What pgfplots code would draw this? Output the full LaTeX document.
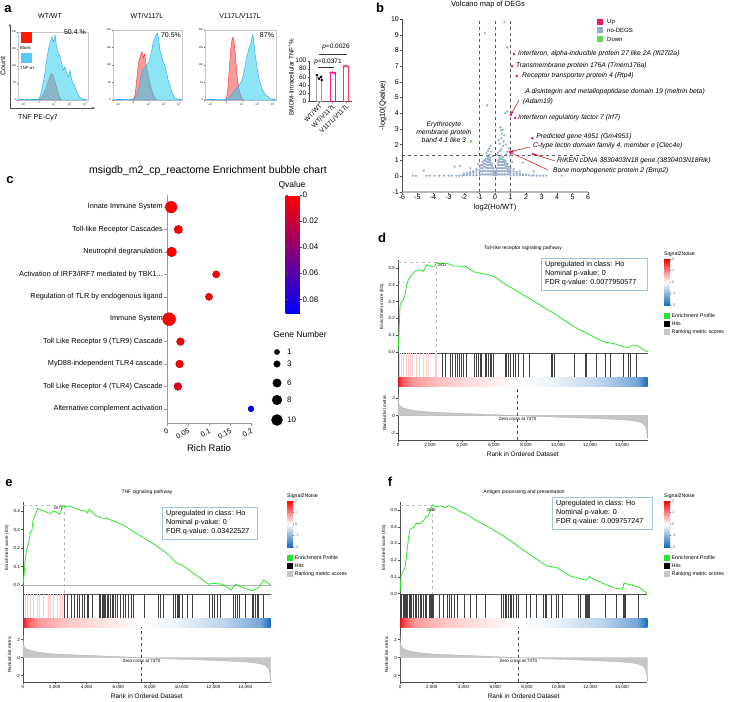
\documentclass[border=0pt]{standalone}
\usepackage{fontspec}
\setmainfont{Liberation Sans}
\usepackage{pgfplots}
\usepackage{pgfplotstable}
\pgfplotsset{compat=1.18}
\usetikzlibrary{arrows.meta}

\newcommand\fs[1]{\fontsize{#1pt}{#1pt}\selectfont}

\definecolor{histred}{RGB}{240,70,70}
\definecolor{histcyan}{RGB}{45,205,235}
\definecolor{upred}{RGB}{228,30,90}
\definecolor{nodeg}{RGB}{150,172,200}
\definecolor{downgreen}{RGB}{110,210,90}
\definecolor{esgreen}{RGB}{40,230,40}
\definecolor{boxblue}{RGB}{160,195,230}
\definecolor{rampred}{RGB}{225,25,35}
\definecolor{rampblue}{RGB}{25,105,190}
\definecolor{barpink}{RGB}{245,30,140}
\definecolor{barred}{RGB}{245,60,80}

\pgfdeclarehorizontalshading{gsearamp}{100bp}{color(0bp)=(rampred); color(25bp)=(rampred);
  color(26bp)=(red!65); color(28bp)=(red!40); color(34bp)=(red!22); color(42bp)=(red!10);
  color(49bp)=(white); color(56bp)=(rampblue!8); color(66bp)=(rampblue!30);
  color(73bp)=(rampblue!60); color(75bp)=(rampblue); color(100bp)=(rampblue)}
\pgfdeclareverticalshading{stwon}{100bp}{color(0bp)=(rampblue); color(25bp)=(rampblue);
  color(50bp)=(white); color(75bp)=(red); color(100bp)=(red)}

\pgfplotsset{
  base/.style={scale only axis, clip=false,
    /pgf/number format/assume math mode=true,
    tick align=outside, major tick length=2pt,
    axis line style={black!70, line width=0.4pt},
    tick style={black!70, line width=0.4pt},
    ticklabel style={font=\fs{4.5}, inner sep=1pt},
    label style={font=\fs{4.5}}},
  gsea/.style={base, xmin=0, xmax=15600, width=#1, scaled x ticks=false},
  rankx/.style={xtick={0,2000,4000,6000,8000,10000,12000,14000},
    xticklabel style={/pgf/number format/.cd, fixed, 1000 sep={,}, assume math mode=true}},
  hist/.style={base, width=#1, xmin=0, xmax=100, ymin=0, ymax=100,
    axis line style={gray!45, line width=0.4pt}, tick pos=left,
    major tick length=1.2pt, tick style={black!60, line width=0.3pt},
    xtick={8,30,52,74,96},
    xticklabels={-10\textsuperscript{3},0,10\textsuperscript{3},10\textsuperscript{4},10\textsuperscript{5}},
    ytick={0,25,50,75,100}, yticklabels={0,50,100,150,200},
    ticklabel style={font=\fs{2.6}, inner sep=0.5pt}},
}

% Signal2Noise legend: #1 left px, #2 title y px
\newcommand\sleg[2]{%
  \node[anchor=west, font=\fs{5.2}, inner sep=0] at (#1,#2) {Signal2Noise};
  \shade[shading=stwon] (#1,{#2+5}) rectangle ({#1+6},{#2+51});
  \foreach \v/\t in {0/2,1/1,2/0,3/-1,4/-2}{
    \draw[black!60, line width=0.3pt] ({#1+6},{#2+5+11.5*\v}) -- ++(1.3,0)
      node[anchor=west, font=\fs{3.8}, inner sep=0.6pt] {\t};}
  \fill[esgreen] (#1,{#2+59}) rectangle ++(6,6);
  \node[anchor=west, font=\fs{5.3}, inner sep=0] at ({#1+7.5},{#2+62}) {Enrichment Profile};
  \fill[black] (#1,{#2+67}) rectangle ++(6,6);
  \node[anchor=west, font=\fs{5.3}, inner sep=0] at ({#1+7.5},{#2+70}) {Hits};
  \fill[gray!45] (#1,{#2+75}) rectangle ++(6,6);
  \node[anchor=west, font=\fs{5.3}, inner sep=0] at ({#1+7.5},{#2+78}) {Ranking metric scores};
}
% stats box: #1 left, #2 top, #3 width, #4 FDR
\newcommand\statbox[4]{%
  \draw[boxblue, line width=0.6pt] (#1,#2) rectangle ++(#3,32);
  \node[anchor=west, font=\fs{7.2}, inner sep=0] at ({#1+4},{#2+7}) {Upregulated in class: Ho};
  \node[anchor=west, font=\fs{7.2}, inner sep=0] at ({#1+4},{#2+16}) {Nominal p-value: 0};
  \node[anchor=west, font=\fs{7.2}, inner sep=0] at ({#1+4},{#2+25}) {FDR q-value: #4};
}

\pgfplotstableread{
r m
0 2.6
15 2.0
40 1.5
100 1.2
200 1.0
400 0.85
700 0.7
1000 0.6
1500 0.5
2000 0.42
3000 0.33
4000 0.26
5000 0.19
6000 0.12
7000 0.04
7470 0
8000 -0.05
9000 -0.12
10000 -0.18
11000 -0.24
12000 -0.31
13000 -0.39
14000 -0.48
14600 -0.58
15000 -0.7
15300 -0.9
15450 -1.2
15530 -1.6
15570 -2.2
15590 -2.6
15600 -2.6
}\rankdata

\pgfplotstableread{
r es
0 0
60 0.1
125 0.28
230 0.30
330 0.31
440 0.34
540 0.40
650 0.43
850 0.46
1060 0.48
1480 0.49
1600 0.48
1790 0.52
2100 0.51
2310 0.512
2411 0.535
2600 0.525
3040 0.53
3460 0.512
3900 0.512
4100 0.505
4250 0.51
4730 0.478
5350 0.466
6000 0.45
6600 0.41
7660 0.35
8700 0.29
9750 0.23
10370 0.19
11200 0.14
11850 0.11
12850 0.06
13500 0.05
14100 0.03
14400 0.027
14650 0.04
14900 0.04
15600 0
}\esd

\pgfplotstableread{
r es
0 0
84 0.072
147 0.144
252 0.198
357 0.225
462 0.28
567 0.297
630 0.35
777 0.378
924 0.414
1196 0.405
1511 0.393
1721 0.387
1931 0.4
2141 0.393
2309 0.382
2414 0.405
2519 0.429
2577 0.432
2666 0.423
2876 0.429
3190 0.418
3610 0.405
3925 0.4
4072 0.39
4177 0.41
4555 0.378
4870 0.364
5290 0.36
5814 0.342
6339 0.324
6969 0.288
8018 0.234
9068 0.171
9698 0.117
10013 0.108
10747 0.063
11692 0.004
12007 0.009
12532 0.004
13119 -0.027
13371 0.004
13686 -0.009
14463 -0.031
14840 -0.014
15155 0.027
15600 0
}\ese

\pgfplotstableread{
r es
0 0
63 0.106
210 0.136
315 0.156
420 0.236
525 0.325
631 0.385
841 0.395
1009 0.419
1261 0.419
1471 0.435
1639 0.459
1786 0.465
1892 0.491
2046 0.531
2207 0.519
2522 0.525
2837 0.515
3090 0.525
3363 0.515
3783 0.491
4203 0.475
4834 0.435
5465 0.405
6515 0.345
7566 0.275
8617 0.206
9248 0.166
9878 0.156
10719 0.106
11244 0.092
11770 0.08
11938 0.102
12190 0.086
12820 0.06
13556 0.032
14039 0.026
14123 0.062
15027 0.04
15600 0
}\esf

\pgfplotstableread{
i r q n
0 0.010 0.000 11
1 0.027 0.002 6
2 0.011 0.001 8
3 0.117 0.003 4
4 0.100 0.004 4
5 0.005 0.001 13
6 0.032 0.004 5
7 0.030 0.004 5
8 0.026 0.012 5
9 0.200 0.088 2
}\bubbles

\begin{document}
\begin{tikzpicture}
\path[use as bounding box] (0pt,0pt) rectangle (730pt,-701pt);

% ================= a: flow histograms
\begin{axis}[hist=70pt, at={(18pt,-100pt)}, anchor=south west, height=68pt]
\addplot[fill=histred, fill opacity=0.55, draw=red!80, line width=0.4pt] coordinates {
(30,0)(33,3)(36,8)(40,17)(44,29)(46,35)(48,39)(50,36)(52,30)(55,19)(58,8)(60,3)(62,0)} \closedcycle;
\addplot[fill=histcyan, fill opacity=0.55, draw=histcyan!80!blue, line width=0.4pt] coordinates {
(0,0.5)(5,1)(10,0.5)(15,1.5)(20,1)(25,1)(29,1)(31.4,4.9)(33.8,14.7)(37.6,34.3)(41,58.8)(43.3,73.5)
(45.7,83.3)(48,93)(50.5,85.8)(52.9,95.6)(55.2,78.4)(57.6,68.6)(60,63.7)(62.4,53.9)(64.8,44)(67.1,49)
(69.5,39.2)(71.9,34.3)(74.3,44)(76.7,29.4)(79,24.5)(81.4,19.6)(83.8,12.3)(86.2,7.4)(88.6,3.9)(93.3,1)
(97,0.5)(100,0)} \closedcycle;
\end{axis}

\begin{axis}[hist=69pt, at={(113pt,-100pt)}, anchor=south west, height=70pt]
\addplot[fill=histred, fill opacity=0.55, draw=red!80, line width=0.4pt] coordinates {
(28,0)(30,2)(32,8)(34,25)(36,45)(38,58)(40,64)(42,69)(44,60)(46,66)(48,50)(50,40)(52,30)(54,22)
(56,15)(58,8)(60,4)(63,0)} \closedcycle;
\addplot[fill=histcyan, fill opacity=0.55, draw=histcyan!80!blue, line width=0.4pt] coordinates {
(0,0.5)(10,1)(20,0.5)(30,1)(32,2)(35,8)(38,20)(41,35)(43,43)(46,46)(49,50)(52,55)(54,61)(56,70)
(58,81)(60,86)(62,92)(64,96)(66,90)(67,80)(68,71)(70,66)(72,57)(74,52)(76,45)(78,38)(80,28)(83,19)
(85,12)(87,7)(90,3)(92,2)(96,1)(100,0.5)} \closedcycle;
\end{axis}

\begin{axis}[hist=71pt, at={(205pt,-100pt)}, anchor=south west, height=70pt]
\addplot[fill=histred, fill opacity=0.55, draw=red!80, line width=0.4pt] coordinates {
(30,0)(32.4,19)(34.7,52)(37,81)(39.3,90)(40.7,86)(42.6,67)(44.9,38)(47.2,19)(50,7)(53,1)(55,0)} \closedcycle;
\addplot[fill=histcyan, fill opacity=0.55, draw=histcyan!80!blue, line width=0.4pt] coordinates {
(0,0.5)(10,1)(20,0.5)(30,1)(32.4,1)(37,7)(41.7,14)(46.3,19)(50.9,26)(54.6,38)(57.9,57)(60.2,67)
(62.5,76)(64.8,81)(67.1,93)(68.5,86)(70.4,67)(73.1,48)(76.4,29)(81,14)(85.6,7)(92.6,2)(97,1)(100,0.5)} \closedcycle;
\end{axis}

% ================= a: bar chart
\begin{axis}[base, at={(309pt,-101pt)}, anchor=south west, width=43pt, height=40.3pt,
  xmin=0.26, xmax=3.44, ymin=0, ymax=100, axis x line*=bottom, axis y line*=left,
  ytick={0,20,40,60,80,100}, xtick={1,2,3},
  xticklabels={WT/WT,WT/V117L,V117L/V117L},
  ticklabel style={font=\fs{6.5}},
  xticklabel style={rotate=45, anchor=north east, inner sep=0.5pt},
  major tick length=1.5pt]
\addplot[ybar, bar shift=0pt, bar width=5pt, draw=gray!80, fill=white, line width=0.7pt] coordinates {(1,58)};
\addplot[ybar, bar shift=0pt, bar width=5pt, draw=barpink, fill=white, line width=0.7pt] coordinates {(2,70)};
\addplot[ybar, bar shift=0pt, bar width=5pt, draw=barred, fill=white, line width=0.7pt] coordinates {(3,86)};
\addplot[only marks, mark=*, mark size=1.1pt, black] coordinates {(0.85,64)(1.15,60)(1.0,55)(1.2,52)};
\addplot[only marks, mark=*, mark size=1.0pt, barpink] coordinates {(1.85,70)(2.0,71)(2.15,69)};
\addplot[only marks, mark=*, mark size=1.0pt, barred] coordinates {(2.85,86)(3.0,87)(3.15,85)};
\end{axis}

% ================= b: volcano
\begin{axis}[base, at={(402pt,-191.7pt)}, anchor=south west, width=186pt, height=172.7pt,
  xmin=-6, xmax=6, ymin=-1, ymax=10, axis x line*=bottom, axis y line*=left,
  xtick={-6,-5,...,6}, ytick={-1,0,...,10}, ticklabel style={font=\fs{7}},
  x axis line style={gray!55, line width=1.6pt},
  xlabel={log2(Ho/WT)}, ylabel={-log10(Qvalue)}, label style={font=\fs{7.5}}]
\draw[black!65, dashed, line width=0.5pt] (axis cs:-1,-1) -- (axis cs:-1,10);
\draw[black!65, dashed, line width=0.5pt] (axis cs:0,-1) -- (axis cs:0,10);
\draw[black!65, dashed, line width=0.5pt] (axis cs:1,-1) -- (axis cs:1,10);
\draw[black!65, dashed, line width=0.5pt] (axis cs:-6,1.3) -- (axis cs:6,1.3);
\addplot[only marks, mark=*, mark size=0.9pt, nodeg] coordinates {
(0.6,9.8)(-0.65,9.1)(0.8,8.2)(-0.5,4.5)(0.65,4.0)(0.8,4.1)
(0.35,3.1)(0.38,2.9)(0.5,2.95)(0.45,2.7)(0.6,2.6)(0.42,2.4)(0.25,2.3)(0.55,2.2)(0.3,2.05)(0.7,2.0)
(0.5,1.9)(-0.3,1.9)(-0.38,1.75)(-0.45,1.6)(-0.25,1.55)(-0.55,1.45)(-0.35,1.35)(0.9,1.75)(0.8,1.55)
(0.72,1.4)(0.95,1.3)(1.1,1.45)(-0.15,1.25)(0.2,1.5)(0.15,1.35)(0.32,1.6)(0.4,1.7)(1.8,0.85)
(-1.6,0.5)(-2.26,0.64)(-2.6,0.6)(-4.6,0.34)(1.1,0.9)(-1.1,0.75)
(-2.0,0.05)(-2.0,0.15)(-1.8,0.05)(-1.8,0.1)(-1.8,0.2)(-1.6,0.05)(-1.6,0.15)(-1.6,0.25)
(-1.4,0.05)(-1.4,0.2)(-1.4,0.3)(-1.2,0.05)(-1.2,0.2)(-1.2,0.35)(-1.2,0.45)
(-1.0,0.05)(-1.0,0.25)(-1.0,0.4)(-1.0,0.6)(-0.9,0.1)(-0.9,0.3)(-0.9,0.5)(-0.9,0.7)
(-0.8,0.1)(-0.8,0.3)(-0.8,0.5)(-0.8,0.7)(-0.8,0.9)(-0.7,0.1)(-0.7,0.35)(-0.7,0.6)(-0.7,0.8)(-0.7,1.0)
(-0.6,0.1)(-0.6,0.3)(-0.6,0.55)(-0.6,0.75)(-0.6,0.95)(-0.6,1.1)
(-0.5,0.1)(-0.5,0.3)(-0.5,0.5)(-0.5,0.7)(-0.5,0.9)(-0.5,1.1)(-0.5,1.25)
(-0.4,0.1)(-0.4,0.3)(-0.4,0.5)(-0.4,0.7)(-0.4,0.9)(-0.4,1.05)(-0.4,1.2)
(-0.3,0.1)(-0.3,0.3)(-0.3,0.5)(-0.3,0.7)(-0.3,0.85)(-0.3,1.0)(-0.3,1.15)
(-0.2,0.1)(-0.2,0.3)(-0.2,0.5)(-0.2,0.65)(-0.2,0.8)(-0.1,0.05)(-0.1,0.2)(-0.1,0.35)(-0.1,0.5)
(0.0,0.05)(0.0,0.15)(0.0,0.3)(0.1,0.05)(0.1,0.2)(0.1,0.35)(0.1,0.5)
(0.2,0.1)(0.2,0.3)(0.2,0.5)(0.2,0.7)(0.2,0.85)(0.2,1.0)
(0.3,0.1)(0.3,0.3)(0.3,0.5)(0.3,0.7)(0.3,0.9)(0.3,1.05)(0.3,1.2)
(0.4,0.1)(0.4,0.3)(0.4,0.5)(0.4,0.7)(0.4,0.9)(0.4,1.1)(0.4,1.3)
(0.5,0.1)(0.5,0.3)(0.5,0.5)(0.5,0.7)(0.5,0.9)(0.5,1.05)(0.5,1.2)
(0.6,0.1)(0.6,0.3)(0.6,0.5)(0.6,0.7)(0.6,0.85)(0.6,1.0)
(0.7,0.1)(0.7,0.3)(0.7,0.5)(0.7,0.65)(0.7,0.8)(0.7,0.95)
(0.8,0.1)(0.8,0.3)(0.8,0.45)(0.8,0.6)(0.8,0.75)(0.9,0.1)(0.9,0.25)(0.9,0.4)(0.9,0.55)
(1.0,0.05)(1.0,0.2)(1.0,0.35)(1.0,0.5)(1.2,0.05)(1.2,0.15)(1.2,0.3)(1.2,0.45)
(1.4,0.05)(1.4,0.15)(1.4,0.25)(1.6,0.05)(1.6,0.15)(1.6,0.3)(1.8,0.05)(1.8,0.1)
(2.0,0.05)(2.0,0.1)(2.2,0.05)(2.5,0.05)(2.5,0.3)
(-5.3,0.02)(-5.1,0.02)(-4.4,0.02)(-4.2,0.02)(-3.9,0.02)(-3.6,0.02)(-3.3,0.02)(-3.0,0.02)
(-2.8,0.02)(-2.5,0.02)(-2.3,0.02)(-2.1,0.03)(2.4,0.02)(2.7,0.02)(2.9,0.02)(3.1,0.02)(3.3,0.02)(4.3,0.02)};
\addplot[only marks, mark=*, mark size=1.1pt, upred] coordinates {
(1.23,7.77)(1.1,7.0)(1.4,6.37)(1.03,3.9)(1.3,3.7)(2.4,2.4)(1.0,1.5)(2.45,1.4)(0.97,1.55)};
\addplot[only marks, mark=*, mark size=1.1pt, downgreen] coordinates {(-1.55,2.2)};
\begin{scope}[every node/.style={font=\fs{6.8}\itshape, inner sep=0, anchor=west}]
\node at (axis cs:1.48,7.77) {Interferon, alpha-inducible protein 27 like 2A (Ifi27l2a)};
\node at (axis cs:1.35,7.0) {Transmembrane protein 176A (Tmem176a)};
\node at (axis cs:1.74,6.37) {Receptor transporter protein 4 (Rtp4)};
\node at (axis cs:1.94,5.35) {A disintegrin and metallopeptidase domain 19 (meltrin beta)};
\node at (axis cs:1.8,4.71) {(Adam19)};
\node at (axis cs:1.48,3.69) {Interferon regulatory factor 7 (Irf7)};
\node at (axis cs:2.65,2.48) {Predicted gene 4951 (Gm4951)};
\node at (axis cs:2.45,1.91) {C-type lectin domain family 4, member e (Clec4e)};
\node at (axis cs:4.0,0.96) {RIKEN cDNA 3830403N18 gene (3830403N18Rik)};
\node at (axis cs:3.74,0.32) {Bone morphogenetic protein 2 (Bmp2)};
\node[anchor=center, align=center] at (axis cs:-3.3,2.8) {Erythrocyte\\[1.2pt]membrane protein\\[1.2pt]band 4.1 like 3};
\end{scope}
\draw[red!85!black, -{Stealth[length=3pt,width=2.4pt]}, line width=0.5pt] (axis cs:1.55,4.84) -- (axis cs:1.05,3.95);
\draw[red!85!black, -{Stealth[length=3pt,width=2.4pt]}, line width=0.5pt] (axis cs:2.26,1.85) -- (axis cs:1.0,1.55);
\draw[red!85!black, -{Stealth[length=3pt,width=2.4pt]}, line width=0.5pt] (axis cs:3.87,0.96) -- (axis cs:2.5,1.38);
\draw[red!85!black, -{Stealth[length=3pt,width=2.4pt]}, line width=0.5pt] (axis cs:3.42,0.38) -- (axis cs:1.0,1.5);
\end{axis}

% ================= c: bubble chart
\begin{axis}[base, at={(167pt,-195pt)}, anchor=north west, width=84pt, height=228pt,
  xmin=0, xmax=0.2, ymin=-0.54, ymax=9.63, y dir=reverse,
  axis x line*=bottom, axis y line*=left, axis line style={gray!80, line width=0.6pt},
  tick style={gray!80, line width=0.5pt}, major tick length=3pt,
  ytick={0,1,2,3,4,5,6,7,8,9},
  yticklabels={Innate Immune System,Toll-like Receptor Cascades,Neutrophil degranulation,
    Activation of IRF3/IRF7 mediated by TBK1{.}{.}{.},Regulation of TLR by endogenous ligand,
    Immune System,Toll Like Receptor 9 (TLR9) Cascade,MyD88-independent TLR4 cascade,
    Toll Like Receptor 4 (TLR4) Cascade,Alternative complement activation},
  yticklabel style={font=\fs{7.3}},
  xtick={0,0.05,0.1,0.15,0.2}, xticklabels={0,0.05,0.1,0.15,0.2},
  xticklabel style={font=\fs{7.3}, rotate=30, anchor=north east},
  xlabel={Rich Ratio}, xlabel style={font=\fs{9.5}},
  colormap={rb}{rgb255=(255,0,0) rgb255=(0,0,255)},
  point meta min=0, point meta max=0.0905,
  colorbar,
  colorbar style={at={(parent axis.north east)}, anchor=north west, xshift=26pt,
    scale only axis, width=16pt, height=118pt, y dir=reverse, scaled y ticks=false,
    ytick={0,0.02,0.04,0.06,0.08}, yticklabels={0,0.02,0.04,0.06,0.08}, axis line style={draw=none},
    tick style={black!70, line width=0.4pt}, major tick length=2pt,
    yticklabel style={font=\fs{8}}}]
\addplot[scatter, only marks, mark=*, point meta=\thisrow{q},
  visualization depends on={2.3+0.32*\thisrow{n} \as \msz},
  scatter/@pre marker code/.append style={/tikz/mark size=\msz pt}]
  table[x=r, y=i] {\bubbles};
\end{axis}

% Gene Number legend
\begin{axis}[scale only axis, hide axis, at={(270pt,-430pt)}, anchor=south west, width=40pt, height=90pt,
  xmin=270, xmax=310, ymin=340, ymax=430, y dir=reverse, clip=false]
\addplot[only marks, mark=*, black, mark size=2.62pt] coordinates {(277,352)};
\addplot[only marks, mark=*, black, mark size=3.26pt] coordinates {(277,364)};
\addplot[only marks, mark=*, black, mark size=4.22pt] coordinates {(277,383)};
\addplot[only marks, mark=*, black, mark size=4.86pt] coordinates {(277,400)};
\addplot[only marks, mark=*, black, mark size=5.5pt] coordinates {(277,420)};
\end{axis}

% ================= d: GSEA
\begin{axis}[gsea=249.6pt, at={(398pt,-260pt)}, anchor=north west, height=93pt,
  ymin=-0.006, ymax=0.548, axis x line*=bottom, axis y line*=left, xtick=\empty,
  ytick={0,0.1,0.2,0.3,0.4,0.5},
  yticklabel style={/pgf/number format/.cd, fixed, fixed zerofill, precision=1},
  ylabel={Enrichment score (ES)}]
\draw[gray!55, dashed, line width=0.3pt] (axis cs:0,0.535) -- (axis cs:2411,0.535) -- (axis cs:2411,0);
\addplot[esgreen, line width=0.8pt] table[x=r, y=es] {\esd};
\node[font=\fs{4}, anchor=north west, inner sep=1pt] at (axis cs:2411,0.535) {2411};
\end{axis}
\begin{axis}[gsea=249.6pt, at={(398pt,-353pt)}, anchor=north west, height=33pt,
  ymin=-0.375, ymax=1, axis x line=none, axis y line*=left, ytick=\empty, xtick=\empty]
\shade[shading=gsearamp] (axis cs:0,-0.375) rectangle (axis cs:15600,0);
\addplot[ycomb, red!20, line width=0.5pt] coordinates {(83,1)(229,1)(333,1)(500,1)(646,1)(792,1)
(917,1)(1167,1)(1333,1)(1583,1)(1750,1)(1896,1)(2312,1)(2417,1)};
\addplot[ycomb, black!75, line width=0.5pt] coordinates {(2792,1)(2937,1)(3250,1)(3417,1)(3562,1)
(3708,1)(3833,1)(3979,1)(4083,1)(4292,1)(4750,1)(4875,1)(5021,1)(5125,1)(5229,1)(5437,1)(5542,1)
(5646,1)(5750,1)(5854,1)(5958,1)(6687,1)(6792,1)(6896,1)(7042,1)(7208,1)(7354,1)(7521,1)(7833,1)
(8208,1)(9604,1)(9667,1)(9750,1)(11000,1)(11687,1)(11750,1)(12417,1)(12937,1)(13292,1)(14083,1)
(14396,1)(14500,1)(14875,1)};
\end{axis}
\begin{axis}[gsea=249.6pt, rankx, at={(398pt,-386pt)}, anchor=north west, height=54pt,
  ymin=-2.8, ymax=3.4, axis x line*=bottom, axis y line*=left, ytick={-2,0,2},
  ylabel={Ranked list metric}, xlabel={Rank in Ordered Dataset}, xlabel style={font=\fs{6.5}}]
\addplot[fill=gray!45, draw=gray!60, line width=0.3pt] table[x=r, y=m] {\rankdata} \closedcycle;
\draw[black!70, dashed, line width=0.5pt] (axis cs:7470,-2.8) -- (axis cs:7470,3.4);
\node[font=\fs{4.5}, inner sep=0] at (axis cs:7470,-0.4) {Zero cross at 7470};
\end{axis}

% ================= e: GSEA
\begin{axis}[gsea=247.7pt, at={(23pt,-502pt)}, anchor=north west, height=92pt,
  ymin=-0.049, ymax=0.449, axis x line*=bottom, axis y line*=left, xtick=\empty,
  ytick={0,0.1,0.2,0.3,0.4},
  yticklabel style={/pgf/number format/.cd, fixed, fixed zerofill, precision=1},
  ylabel={Enrichment score (ES)}]
\draw[gray!60, line width=0.4pt] (axis cs:0,0) -- (axis cs:15600,0);
\draw[gray!55, dashed, line width=0.3pt] (axis cs:0,0.432) -- (axis cs:2577,0.432) -- (axis cs:2577,-0.049);
\addplot[esgreen, line width=0.8pt] table[x=r, y=es] {\ese};
\node[font=\fs{4}, anchor=north east, inner sep=1pt] at (axis cs:2577,0.432) {2577};
\end{axis}
\begin{axis}[gsea=247.7pt, at={(23pt,-594pt)}, anchor=north west, height=33pt,
  ymin=-0.375, ymax=1, axis x line=none, axis y line*=left, ytick=\empty, xtick=\empty]
\shade[shading=gsearamp] (axis cs:0,-0.375) rectangle (axis cs:15600,0);
\addplot[ycomb, red!20, line width=0.5pt] coordinates {(147,1)(294,1)(462,1)(672,1)(882,1)(1050,1)
(1301,1)(1616,1)(1721,1)(1931,1)(2141,1)(2351,1)(2456,1)};
\addplot[ycomb, black!75, line width=0.5pt] coordinates {(2624,1)(2771,1)(3023,1)(3233,1)(3401,1)
(3568,1)(3715,1)(3862,1)(4072,1)(4135,1)(4345,1)(4807,1)(4870,1)(4975,1)(5038,1)(5122,1)(5185,1)
(5290,1)(5395,1)(5500,1)(5605,1)(5710,1)(5814,1)(5961,1)(6129,1)(6339,1)(6444,1)(6654,1)(6801,1)
(6927,1)(7641,1)(8543,1)(8648,1)(8858,1)(9488,1)(9593,1)(9698,1)(9761,1)(9845,1)(10013,1)(10327,1)
(10642,1)(11734,1)(11902,1)(12070,1)(12217,1)(12427,1)(13224,1)(13371,1)(13476,1)(13644,1)(14001,1)
(14421,1)(14526,1)(14631,1)(14736,1)(14840,1)(15155,1)};
\end{axis}
\begin{axis}[gsea=247.7pt, rankx, at={(23pt,-627pt)}, anchor=north west, height=55pt,
  ymin=-2.7, ymax=3.4, axis x line*=bottom, axis y line*=left, ytick={-2,0,2},
  ylabel={Ranked list metric}, xlabel={Rank in Ordered Dataset}, xlabel style={font=\fs{6.5}}]
\addplot[fill=gray!45, draw=gray!60, line width=0.3pt] table[x=r, y=m] {\rankdata} \closedcycle;
\draw[black!70, dashed, line width=0.5pt] (axis cs:7470,-2.7) -- (axis cs:7470,3.4);
\node[font=\fs{4.5}, inner sep=0] at (axis cs:7470,-0.4) {Zero cross at 7470};
\end{axis}

% ================= f: GSEA
\begin{axis}[gsea=247.4pt, at={(400pt,-502pt)}, anchor=north west, height=92pt,
  ymin=-0.003, ymax=0.548, axis x line*=bottom, axis y line*=left, xtick=\empty,
  ytick={0,0.1,0.2,0.3,0.4,0.5},
  yticklabel style={/pgf/number format/.cd, fixed, fixed zerofill, precision=1},
  ylabel={Enrichment score (ES)}]
\draw[gray!55, dashed, line width=0.3pt] (axis cs:0,0.531) -- (axis cs:2046,0.531) -- (axis cs:2046,0);
\addplot[esgreen, line width=0.8pt] table[x=r, y=es] {\esf};
\node[font=\fs{4}, anchor=north west, inner sep=1pt] at (axis cs:1600,0.515) {2046};
\end{axis}
\begin{axis}[gsea=247.4pt, at={(400pt,-594pt)}, anchor=north west, height=33pt,
  ymin=-0.375, ymax=1, axis x line=none, axis y line*=left, ytick=\empty, xtick=\empty]
\shade[shading=gsearamp] (axis cs:0,-0.375) rectangle (axis cs:15600,0);
\addplot[ycomb, black!75, line width=0.5pt] coordinates {(42,1)(105,1)(210,1)(273,1)(336,1)(420,1)
(483,1)(588,1)(673,1)(736,1)(841,1)(946,1)(1051,1)(1156,1)(1261,1)(1366,1)(1471,1)(1576,1)(1681,1)
(1829,1)(1934,1)(1997,1)(2039,1)(2102,1)(2480,1)(2732,1)(2984,1)(3111,1)(3258,1)(3405,1)(3615,1)
(4035,1)(4456,1)(4834,1)(5359,1)(6410,1)(6515,1)(6621,1)(6726,1)(6831,1)(6936,1)(7041,1)(7146,1)
(7356,1)(7461,1)(7987,1)(8197,1)(8617,1)(9037,1)(9143,1)(9248,1)(9563,1)(9878,1)(9983,1)(10256,1)
(11244,1)(11391,1)(11664,1)(11727,1)(11812,1)(11875,1)(11938,1)(12926,1)(13661,1)(14081,1)(14123,1)
(14186,1)(15027,1)};
\end{axis}
\begin{axis}[gsea=247.4pt, rankx, at={(400pt,-627pt)}, anchor=north west, height=55pt,
  ymin=-2.7, ymax=3.4, axis x line*=bottom, axis y line*=left, ytick={-2,0,2},
  ylabel={Ranked list metric}, xlabel={Rank in Ordered Dataset}, xlabel style={font=\fs{6.5}}]
\addplot[fill=gray!45, draw=gray!60, line width=0.3pt] table[x=r, y=m] {\rankdata} \closedcycle;
\draw[black!70, dashed, line width=0.5pt] (axis cs:7470,-2.7) -- (axis cs:7470,3.4);
\node[font=\fs{4.5}, inner sep=0] at (axis cs:7470,-0.4) {Zero cross at 7470};
\end{axis}

% ================= text and decorations in pixel coordinates
\begin{scope}[x=1pt, y=-1pt]
% panel letters
\foreach \l/\px/\py in {a/8/9, b/380/8, c/10/180, d/382/238, e/9/483, f/390/482}
  \node[font=\fs{13}\bfseries] at (\px,\py) {\l};
% a
\node[font=\fs{7}] at (50,16) {WT/WT};
\node[font=\fs{7}] at (147,16) {WT/V117L};
\node[font=\fs{7}] at (240,16) {V117L/V117L};
\node[font=\fs{7}] at (75,32) {50.4 \%};
\node[font=\fs{7}] at (171,35) {70.5\%};
\node[font=\fs{7}] at (267,35) {87\%};
\fill[red!80!orange] (21,32) rectangle (32,43);
\node[font=\fs{4.2}, anchor=west, inner sep=0] at (20,47.5) {Blank};
\fill[cyan!65] (21,53) rectangle (32,63);
\node[font=\fs{4.2}, anchor=west, inner sep=0] at (20,68) {TNF-α+};
\draw[-{Stealth[length=3pt,width=2.4pt]}, black!70, line width=0.5pt] (10,108) -- (10,24);
\draw[-{Stealth[length=3pt,width=2.4pt]}, black!70, line width=0.5pt] (10,108) -- (95,108);
\node[font=\fs{7}, rotate=90] at (3,66) {Count};
\node[font=\fs{7}] at (38,118) {TNF PE-Cy7};
\node[font=\fs{6.3}, rotate=90] at (291,77) {BMDM-Intracellular TNF\textsuperscript{+}\%};
\draw[black!80, line width=0.5pt] (318,67) -- (334,67);
\node[font=\fs{6.5}] at (328,62) {\textit{p}=0.0371};
\draw[black!80, line width=0.5pt] (319,54) -- (347,54);
\node[font=\fs{6.5}] at (336,47) {\textit{p}=0.0026};
% b
\node[font=\fs{7.5}] at (488,5) {Volcano map of DEGs};
\fill[upred] (597,19) rectangle ++(6,6);
\node[font=\fs{6}, anchor=west, inner sep=0] at (607,22) {Up};
\fill[nodeg] (597,27) rectangle ++(6,6);
\node[font=\fs{6}, anchor=west, inner sep=0] at (607,30) {no-DEGS};
\fill[downgreen] (597,36) rectangle ++(6,6);
\node[font=\fs{6}, anchor=west, inner sep=0] at (607,39) {Down};
% c
\node[font=\fs{10.5}] at (208,171) {msigdb\_m2\_cp\_reactome Enrichment bubble chart};
\node[font=\fs{8.5}] at (292,185) {Qvalue};
\node[font=\fs{8.5}] at (300,334) {Gene Number};
\foreach \n/\yy in {1/352,3/364,6/383,8/400,10/420}
  \node[font=\fs{8}, anchor=west, inner sep=0] at (287,\yy) {\n};
% d, e, f
\node[font=\fs{5}] at (523,248) {Toll-like receptor signaling pathway};
\node[font=\fs{5}] at (147,492) {TNF signaling pathway};
\node[font=\fs{5}] at (524,492) {Antigen processing and presentation};
\statbox{541}{258}{106}{0.0077950577}
\statbox{162}{507}{95}{0.03422527}
\statbox{552}{497}{100}{0.009757247}
\sleg{664}{254}
\sleg{287}{496}
\sleg{664}{496}
\end{scope}
\end{tikzpicture}
\end{document}
